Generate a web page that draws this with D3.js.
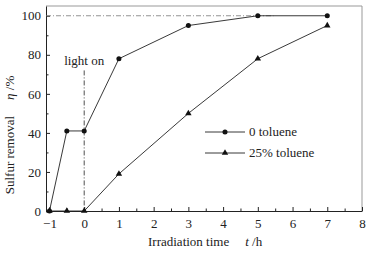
<!DOCTYPE html>
<html>
<head>
<meta charset="utf-8">
<script src="https://cdn.jsdelivr.net/npm/d3@7"></script>
<style>
  body { margin: 0; background: #fff; }
  svg text { font-family: "Liberation Serif", "Times New Roman", Times, "DejaVu Serif", serif; fill: #222; }
</style>
</head>
<body>
<div id="chart"></div>
<script>
// data
var times = [-1, -0.5, 0, 1, 3, 5, 7];
var noToluene = [0, 41, 41, 78, 95, 100, 100];
var toluene25 = [0, 0, 0, 19, 50, 78, 95];
var seriesNames = ["0 toluene", "25% toluene"];
var xTicks = [-1, 0, 1, 2, 3, 4, 5, 6, 7, 8];
var yTicks = [0, 20, 40, 60, 80, 100];

var serif = '"Liberation Serif", "Times New Roman", Times, "DejaVu Serif", serif';
var width = 376, height = 255;
var margin = {top: 6, right: 14, bottom: 44, left: 46};

var svg = d3.select("#chart")
    .append("svg")
    .attr("width", width)
    .attr("height", height);

var x = d3.scaleLinear()
    .domain([-1.1, 8])
    .range([margin.left, width - margin.right]);

var y = d3.scaleLinear()
    .domain([0, 105])
    .range([height - margin.bottom, margin.top]);

// frame, top and right lighter
svg.append("line")
    .attr("x1", x(-1.1)).attr("x2", x(8))
    .attr("y1", y(105)).attr("y2", y(105))
    .style("stroke", "#999").style("stroke-width", 1);
svg.append("line")
    .attr("x1", x(8)).attr("x2", x(8))
    .attr("y1", y(105)).attr("y2", y(0))
    .style("stroke", "#999").style("stroke-width", 1);

// x axis, ticks pointing in
svg.append("g")
    .attr("transform", "translate(0," + y(0) + ")")
    .call(d3.axisBottom(x).tickValues(xTicks).tickSizeInner(-4).tickSizeOuter(0).tickPadding(8));
svg.append("g")
    .attr("transform", "translate(0," + y(0) + ")")
    .call(d3.axisBottom(x).tickValues(d3.range(-0.5, 8, 1)).tickSizeInner(-2.5).tickSizeOuter(0).tickFormat(""))
    .select(".domain").remove();

svg.append("g")
    .attr("transform", "translate(" + x(-1.1) + ",0)")
    .call(d3.axisLeft(y).tickValues(yTicks).tickSizeInner(-4).tickSizeOuter(0).tickPadding(5));
svg.append("g")
    .attr("transform", "translate(" + x(-1.1) + ",0)")
    .call(d3.axisLeft(y).tickValues([10, 30, 50, 70, 90]).tickSizeInner(-2.5).tickSizeOuter(0).tickFormat(""))
    .select(".domain").remove();

svg.selectAll("g").attr("font-family", serif);
svg.selectAll(".tick text")
    .style("font-family", serif)
    .style("font-size", "13px")
    .style("fill", "#222");
svg.selectAll(".domain, .tick line").style("stroke", "#222");

// reference lines
svg.append("line")
    .attr("x1", x(-1.1)).attr("x2", x(5.45))
    .attr("y1", y(100)).attr("y2", y(100))
    .style("stroke", "#777").style("stroke-width", 0.8)
    .style("stroke-dasharray", "5,2,1,2");
svg.append("line")
    .attr("x1", x(0)).attr("x2", x(0))
    .attr("y1", y(72)).attr("y2", y(0))
    .style("stroke", "#222").style("stroke-width", 0.8)
    .style("stroke-dasharray", "5,2,1,2");
svg.append("text")
    .attr("x", x(0))
    .attr("y", y(75))
    .attr("text-anchor", "middle")
    .style("font-size", "13px")
    .text("light on");

var line = d3.line()
    .x(function(d) { return x(d[0]); })
    .y(function(d) { return y(d[1]); });

var s1 = times.map(function(t, i) { return [t, noToluene[i]]; });
var s2 = times.map(function(t, i) { return [t, toluene25[i]]; });

svg.append("path").datum(s1).attr("d", line)
    .style("fill", "none").style("stroke", "#222").style("stroke-width", 0.9);
svg.append("path").datum(s2).attr("d", line)
    .style("fill", "none").style("stroke", "#222").style("stroke-width", 0.9);

var circle = d3.symbol().type(d3.symbolCircle).size(20);
var tri = d3.symbol().type(d3.symbolTriangle).size(18);

svg.selectAll(".c").data(s1).enter().append("path")
    .attr("transform", function(d) { return "translate(" + x(d[0]) + "," + y(d[1]) + ")"; })
    .attr("d", circle).style("fill", "#111");
svg.selectAll(".t").data(s2).enter().append("path")
    .attr("transform", function(d) { return "translate(" + x(d[0]) + "," + y(d[1]) + ")"; })
    .attr("d", tri).style("fill", "#111");

// legend
var legend = svg.append("g");
[circle, tri].forEach(function(sym, i) {
  var ly = 132 + i * 21;
  legend.append("line")
      .attr("x1", 205).attr("x2", 245)
      .attr("y1", ly).attr("y2", ly)
      .style("stroke", "#222").style("stroke-width", 0.9);
  legend.append("path")
      .attr("transform", "translate(225," + ly + ")")
      .attr("d", sym).style("fill", "#111");
  legend.append("text")
      .attr("x", 249).attr("y", ly + 4)
      .style("font-size", "13px")
      .text(seriesNames[i]);
});

// axis titles
var xt = svg.append("text")
    .attr("x", 148).attr("y", 246)
    .style("font-size", "13px");
xt.append("tspan").text("Irradiation time");
xt.append("tspan").attr("dx", 16).style("font-style", "italic").text("t");
xt.append("tspan").text(" /h");

var yt = svg.append("text")
    .attr("transform", "translate(14,135) rotate(-90)")
    .attr("text-anchor", "middle")
    .style("font-size", "13px");
yt.append("tspan").text("Sulfur removal");
yt.append("tspan").attr("dx", 16).style("font-style", "italic").text("η");
yt.append("tspan").text(" /%");
</script>
</body>
</html>
